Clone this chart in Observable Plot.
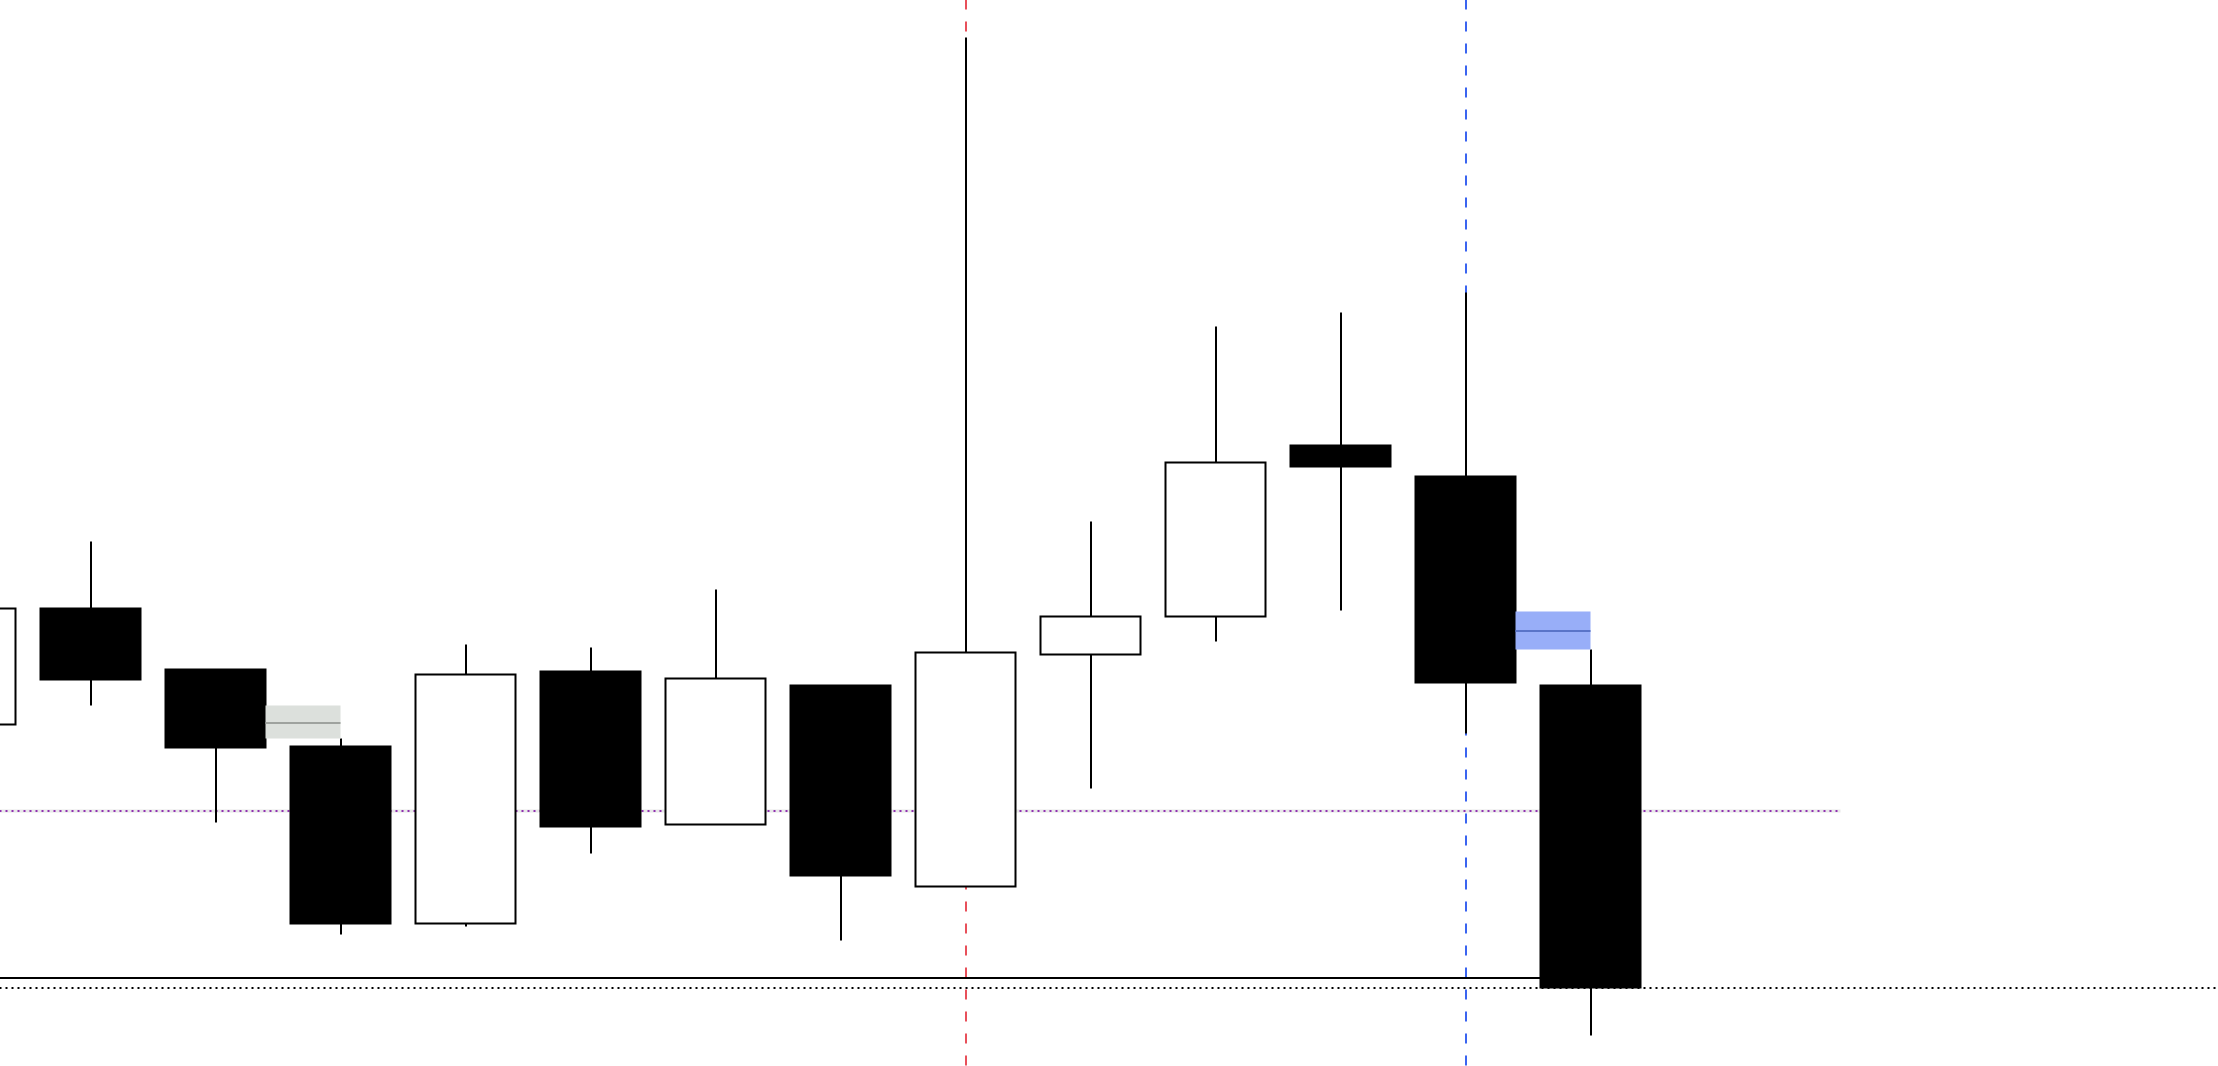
<!DOCTYPE html>
<html>
<head>
<meta charset="utf-8">
<script src="https://cdn.jsdelivr.net/npm/d3@7"></script>
<script src="https://cdn.jsdelivr.net/npm/@observablehq/plot@0.6"></script>
<style>
  html, body { margin: 0; padding: 0; background: #ffffff; overflow: hidden; }
  #chart svg { display: block; }
</style>
</head>
<body>
<div id="chart"></div>
<script>
// Candle index (bar number) and OHLC prices
const bars   = [0, 1, 2, 3, 4, 5, 6, 7, 8, 9, 10, 11, 12, 13];
const opens  = [34.1, 45.7, 39.6, 31.9, 14.2, 39.4, 24.1, 38.0, 17.9, 41.1, 44.9, 62.0, 58.9, 38.0];
const closes = [45.7, 38.6, 31.8, 14.2, 39.1, 23.9, 38.7, 19.0, 41.3, 44.9, 60.3, 59.9, 38.3, 7.8];
const highs  = [45.7, 52.4, 39.6, 32.7, 42.1, 41.8, 47.6, 38.0, 102.8, 54.4, 73.9, 75.3, 77.3, 41.6];
const lows   = [34.1, 36.0, 24.3, 13.1, 13.9, 21.2, 24.1, 12.5, 17.9, 27.7, 42.4, 45.5, 33.2, 3.0];

// Vertical marker bars
const redMarkerBar = [8];
const blueMarkerBar = [12];

// Horizontal levels
const solidLevel = [8.8];
const dottedLevel = [7.8];
const purpleLevel = [25.5];

// Zones (bar start, bar end, low, high, mid)
const zoneStart = [2.4, 12.4];
const zoneEnd   = [3.0, 13.0];
const zoneLow   = [32.7, 41.6];
const zoneHigh  = [36.0, 45.4];
const zoneMid   = [34.3, 43.5];
const zoneFill  = ["#dce0dc", "#98aef8"];
const zoneLine  = ["#9ea29e", "#5a74c8"];

const candles = bars.map((b, i) => ({
  bar: b, open: opens[i], close: closes[i], high: highs[i], low: lows[i],
  up: closes[i] >= opens[i]
}));
const zones = zoneStart.map((s, i) => ({
  x1: s, x2: zoneEnd[i], y1: zoneLow[i], y2: zoneHigh[i], mid: zoneMid[i],
  fill: zoneFill[i], line: zoneLine[i]
}));

// cancel Plot's half-pixel offset so 2px strokes land on whole pixels
const px = { dx: -0.5, dy: -0.5 };
const W = 2218, H = 1066;
const chart = Plot.plot({
  width: W,
  height: H,
  margin: 0,
  style: { background: "#ffffff", overflow: "hidden" },
  x: { domain: [0.272, 18.016], axis: null },
  y: { domain: [0, 106.6], axis: null },
  marks: [
    Plot.ruleX(redMarkerBar, { x: d => d, stroke: "#e8505a", strokeWidth: 2, strokeDasharray: "10,12", ...px }),
    Plot.ruleX(blueMarkerBar, { x: d => d, stroke: "#3a64f0", strokeWidth: 2, strokeDasharray: "10,12", ...px }),
    Plot.ruleY(purpleLevel, { y: d => d, x1: 0.272, x2: 15, stroke: "#e8e8e8", strokeWidth: 3, ...px }),
    Plot.ruleY(purpleLevel, { y: d => d, x1: 0.272, x2: 15, stroke: "#9030b0", strokeWidth: 2, strokeDasharray: "2,4", ...px }),
    Plot.ruleY(solidLevel, { y: d => d, x1: 0.272, x2: 13, stroke: "#000000", strokeWidth: 2, ...px }),
    Plot.ruleY(dottedLevel, { y: d => d, stroke: "#000000", strokeWidth: 2, strokeDasharray: "2,4", ...px }),
    Plot.ruleX(candles, { x: "bar", y1: "low", y2: "high", stroke: "#000000", strokeWidth: 2, ...px }),
    Plot.rect(candles, {
      x1: d => d.bar - 0.4, x2: d => d.bar + 0.4,
      y1: "open", y2: "close",
      fill: d => d.up ? "#ffffff" : "#000000",
      stroke: "#000000", strokeWidth: 2, ...px
    }),
    Plot.rect(zones, { x1: "x1", x2: "x2", y1: "y1", y2: "y2", fill: d => d.fill, ...px }),
    Plot.ruleY(zones, { y: "mid", x1: "x1", x2: "x2", stroke: d => d.line, strokeWidth: 2, ...px })
  ]
});
document.getElementById("chart").appendChild(chart);
</script>
</body>
</html>
